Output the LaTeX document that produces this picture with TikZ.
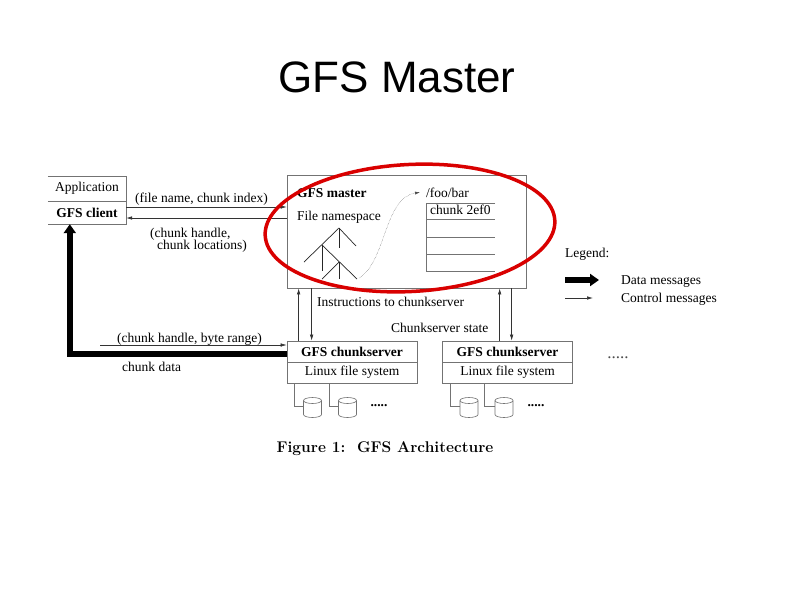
\documentclass[tikz,border=0pt]{standalone}
\usepackage{fontspec}
\newfontfamily\diagfont{Liberation Serif}
\newfontfamily\titlefont{Liberation Sans}
\usetikzlibrary{arrows.meta}

\tikzset{
  box/.style={draw=black!55, line width=0.7pt, minimum width=130pt, minimum height=21pt, inner sep=0pt},
  ctrl/.style={draw=black!80, line width=0.6pt, -{Latex[length=6pt,width=3.5pt]}},
  data/.style={draw=black, line width=5.5pt, -{Triangle[length=9pt,width=12pt]}},
  wire/.style={draw=black!55, line width=0.6pt},
  branch/.style={draw=black!85, line width=0.7pt},
  lbl/.style={anchor=base west, inner sep=0pt},
  bold/.style={font=\diagfont\bfseries\fontsize{13.5}{15}\selectfont},
}

\begin{document}
\begin{tikzpicture}[x=1pt, y=-1pt, every node/.style={font=\diagfont\fontsize{13.5}{15}\selectfont}]
    % Fond
    \fill[white] (0,0) rectangle (794,595);
    \useasboundingbox (0,0) rectangle (794,595);

    % Titre
    \node[anchor=base, font=\titlefont\fontsize{44}{50}\selectfont] (title) at (397,92) {GFS Master};

    % Application / client
    \node[minimum width=78pt, minimum height=25pt, inner sep=0pt] (app) at (87,188.5) {Application};
    \node[minimum width=78pt, minimum height=23pt, inner sep=0pt, bold] (client) at (87,212.5) {GFS client};
    \draw[wire] (app.north west) -- (app.north east) -- (client.south east) -- (client.south west);
    \draw[wire] (app.south west) -- (app.south east);

    % Master
    \node[draw=black!55, line width=0.7pt, minimum width=239pt, minimum height=113pt] (master) at (406.5,231.5) {};
    \node[lbl, bold] (mname) at (297,197) {GFS master};
    \node[lbl] (ns) at (297,220) {File namespace};
    \node[lbl] (foo) at (426,197) {/foo/bar};
    \node[lbl] (chunk) at (430,214) {chunk 2ef0};

    % Table des chunks
    \draw[wire] (495,203) -- (426,203) -- (426,271) -- (495,271);
    \foreach \y in {219,237,254}
        \draw[wire] (426,\y) -- (495,\y);

    % Arbre du namespace
    \draw[branch] (304,262) -- (339,228) -- (356,246);
    \draw[branch] (339,228) -- (339,248);
    \draw[branch] (322,245) -- (322,271);
    \draw[branch] (322,245) -- (357,279);
    \draw[branch] (339,262) -- (339,279);
    \draw[branch] (339,262) -- (322,279);
    \coordinate (leaf) at (359,278);
    \draw[densely dotted, black!70, -{Latex[length=5pt,width=3pt]}] (leaf) .. controls (386,262) and (384,198) .. ([xshift=-6pt]foo.west);

    % Client <-> master
    \draw[ctrl] ([yshift=5.5pt]client.east) -- ([yshift=5.5pt]client.east -| master.west);
    \draw[ctrl] ([yshift=-5.5pt]client.east -| master.west) -- ([yshift=-5.5pt]client.east);
    \node[lbl] (req) at (135,202) {(file name, chunk index)};
    \node[lbl] (rep) at (150,237) {(chunk handle,};
    \node[lbl] (rep2) at (157,249.5) {chunk locations)};

    % Chunkservers
    \node[box, bold] (cs1) at (352,351.5) {GFS chunkserver};
    \node[box] (fs1) at (352,372.5) {Linux file system};
    \node[box, bold] (cs2) at (507.5,351.5) {GFS chunkserver};
    \node[box] (fs2) at (507.5,372.5) {Linux file system};
    \node[font=\diagfont\fontsize{17}{18}\selectfont, black!70] (more) at (618,358) {.....};

    % Master <-> chunkservers
    \draw[ctrl] ([xshift=12pt]cs1.north west) -- ([xshift=12pt]master.south west);
    \draw[ctrl] ([xshift=25pt]master.south west) -- ([xshift=25pt]cs1.north west);
    \draw[ctrl] ([xshift=57.5pt]cs2.north west) -- ([xshift=57.5pt]cs2.north west |- master.south);
    \draw[ctrl] ([xshift=69.5pt]cs2.north west |- master.south) -- ([xshift=69.5pt]cs2.north west);
    \node[lbl] (instr) at (317,306) {Instructions to chunkserver};
    \node[lbl] (state) at (391,332) {Chunkserver state};

    % Client <-> chunkserver
    \coordinate (rq) at (100,345);
    \draw[ctrl] (rq) -- (rq -| cs1.west);
    \node[lbl] (brange) at (117,342) {(chunk handle, byte range)};
    \draw[data] ([yshift=-2.5pt]cs1.west) -| ([xshift=22pt]client.south west);
    \node[lbl] (cdata) at (122,371) {chunk data};

    % Disques
    \foreach \n/\c in {d11/312.5, d12/347.5, d21/469, d22/504} {
        \coordinate (\n) at (\c-9,406);
        \draw[wire] (\c,400.5) ellipse [x radius=9, y radius=3];
        \draw[wire] (\c-9,400.5) -- (\c-9,414.5) arc[start angle=180, end angle=0, x radius=9, y radius=3] -- (\c+9,400.5);
    }
    \draw[wire] ([xshift=8pt]fs1.south west) |- (d11);
    \draw[wire] ([xshift=43pt]fs1.south west) |- (d12);
    \draw[wire] ([xshift=8.5pt]fs2.south west) |- (d21);
    \draw[wire] ([xshift=42.5pt]fs2.south west) |- (d22);
    \node[bold] (dots1) at (379,406) {.....};
    \node[bold] (dots2) at (536,406) {.....};

    % Légende
    \node[lbl] (legend) at (565,257) {Legend:};
    \coordinate (ld) at (565,280);
    \draw[data] (ld) -- ++(34,0);
    \coordinate (lc) at (565,298);
    \draw[ctrl] (lc) -- ++(28,0);
    \node[lbl] (ldata) at (621,284) {Data messages};
    \node[lbl] (lctrl) at (621,302) {Control messages};

    % Légende de la figure
    \node[anchor=base, font=\bfseries\fontsize{15.5}{18}\selectfont] (caption) at (385,452) {Figure 1:\ \ GFS Architecture};

    % Ellipse rouge autour du master
    \draw[red!85!black, line width=3.5pt, rotate around={3:(410,228)}] (410,228) ellipse [x radius=145, y radius=63.5];
\end{tikzpicture}
\end{document}
